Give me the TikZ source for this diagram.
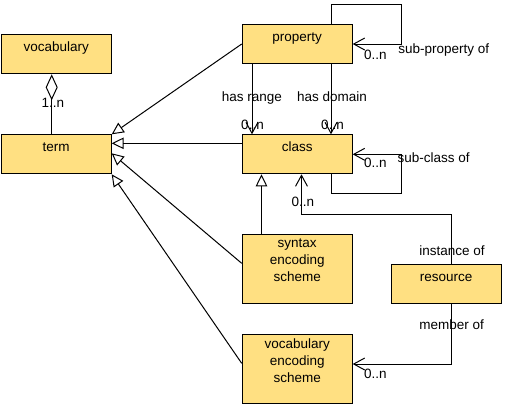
\documentclass[tikz,border=0pt]{standalone}
\usepackage{fontspec}
\setmainfont{Liberation Sans}
\usetikzlibrary{arrows.meta}
\definecolor{boxfill}{RGB}{255,224,130}
\newcommand{\mystrut}{\rule{0pt}{12pt}}
\begin{document}
\begin{tikzpicture}[x=1pt,y=-1pt,
  umlbox/.style={draw=black, fill=boxfill, line width=1pt, inner sep=0pt,
    minimum width=110pt, anchor=north west},
  boxtext/.style={anchor=north, inner xsep=0pt, inner ysep=4.7pt, align=center,
    font=\fontsize{13.5}{16.7}\selectfont, execute at begin node=\mystrut},
  lbl/.style={anchor=base, inner sep=0pt, font=\fontsize{13.5}{16.7}\selectfont},
  conn/.style={draw=black, line width=1pt},
  gen/.style={conn, -{Triangle[open, length=12pt, width=11.5pt]}},
  assoc/.style={conn, -{Straight Barb[length=11pt, width=12pt]}},
  aggr/.style={conn, -{Diamond[open, length=26pt, width=12pt]}}
]
\useasboundingbox (0,0) rectangle (511,408);

% boxes
\node[umlbox, minimum height=39pt] (vocab) at (0.7,34.3) {};
\node[boxtext] (vocab-t) at (vocab.north) {vocabulary};
\node[umlbox, minimum height=39pt] (term) at (0.7,134.3) {};
\node[boxtext] (term-t) at (term.north) {term};
\node[umlbox, minimum height=39pt] (prop) at (241.7,24.3) {};
\node[boxtext] (prop-t) at (prop.north) {property};
\node[umlbox, minimum height=39pt] (class) at (241.7,134.3) {};
\node[boxtext] (class-t) at (class.north) {class};
\node[umlbox, minimum height=69pt] (ses) at (241.7,234.3) {};
\node[boxtext] (ses-t) at (ses.north) {syntax\\encoding\\scheme};
\node[umlbox, minimum height=69pt] (ves) at (241.7,334.3) {};
\node[boxtext] (ves-t) at (ves.north) {vocabulary\\encoding\\scheme};
\node[umlbox, minimum height=39pt] (res) at (390.7,264.3) {};
\node[boxtext] (res-t) at (res.north) {resource};

% helper coordinates
\coordinate (sp1) at (331,4.3);
\coordinate (sp2) at (401.7,4.3);
\coordinate (sc1) at (331,193.3);
\coordinate (sc2) at (401.7,193.3);
\coordinate (io1) at (451.7,214.3);
\coordinate (io2) at (301.5,214.3);

% aggregation vocabulary - term
\draw[aggr] (term.north -| 51.7,0) -- (vocab.south -| 51.7,0);

% generalisations to term
\draw[gen] (prop.west |- 0,44) -- (term.north east);
\draw[gen] (class.west |- 0,143.3) -- (term.east |- 0,143.3);
\draw[gen] (ses.west |- 0,263.3) -- (term.east |- 0,153.3);
\draw[gen] (ves.west |- 0,363.3) -- (term.south east);
\draw[gen] (ses.north -| 261.5,0) -- (class.south -| 261.5,0);

% associations
\draw[assoc] (prop.south -| 252,0) -- (class.north -| 252,0);
\draw[assoc] (prop.south -| 331,0) -- (class.north -| 331,0);
\draw[assoc] (prop.north -| sp1) -- (sp1) -- (sp2) -- (sp2 |- 0,44) -- (prop.east |- 0,44);
\draw[assoc] (class.south -| sc1) -- (sc1) -- (sc2) -- (sc2 |- 0,154.3) -- (class.east |- 0,154.3);
\draw[assoc] (res.north -| io1) -- (io1) -- (io2) -- (class.south -| io2);
\draw[assoc] (res.south -| io1) -- (io1 |- 0,364) -- (ves.east |- 0,364);

% labels
\node[lbl] (l1) at (52.8,107.3) {1..n};
\node[lbl] (l2) at (252,101) {has range};
\node[lbl] (l3) at (332,101) {has domain};
\node[lbl] (l4) at (252.5,129.3) {0..n};
\node[lbl] (l5) at (332.5,129.3) {0..n};
\node[lbl] (l6) at (375.3,59) {0..n};
\node[lbl] (l7) at (443.7,53.3) {sub-property of};
\node[lbl] (l8) at (375.3,167.7) {0..n};
\node[lbl] (l9) at (433.7,162.7) {sub-class of};
\node[lbl] (l10) at (302.8,206.7) {0..n};
\node[lbl] (l11) at (452,255.7) {instance of};
\node[lbl] (l12) at (451.7,329) {member of};
\node[lbl] (l13) at (375.3,378.3) {0..n};
\end{tikzpicture}
\end{document}
